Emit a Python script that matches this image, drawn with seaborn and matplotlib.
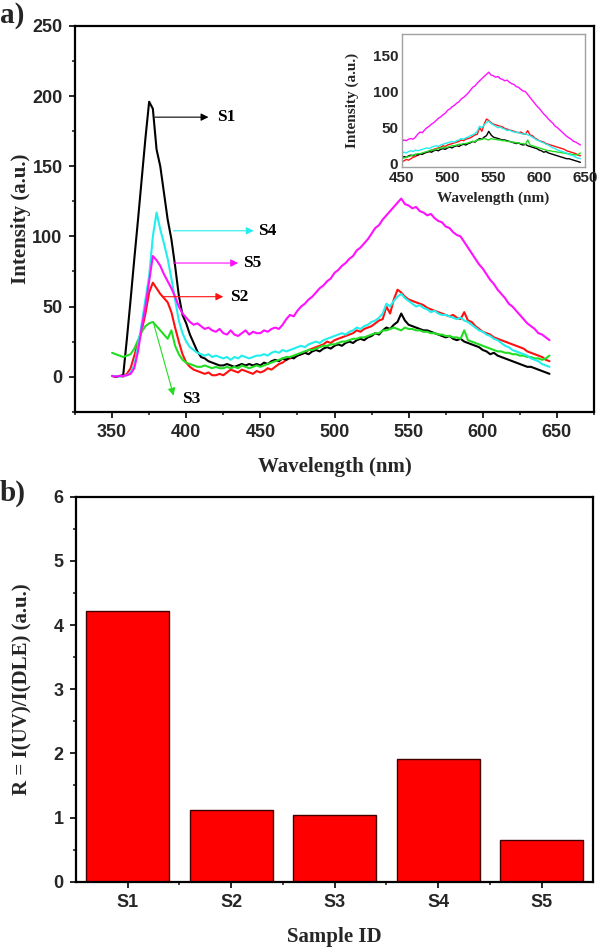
import numpy as np
import pandas as pd
import matplotlib
matplotlib.use("Agg")
import matplotlib.pyplot as plt
from matplotlib.ticker import MultipleLocator, FixedLocator
import seaborn as sns

# ---------------- data ----------------
wavelength = np.round(np.arange(350, 645.01, 2.5), 1)  # nm grid, 2.5 nm step

s1 = [0.5, 0, 0.5, 1, 27, 55, 84, 112, 141, 170,
      196, 191, 162, 150, 131, 112, 98, 79, 58, 44,
      38, 30, 24, 18, 14, 13, 11, 10, 9, 8,
      8, 9, 8, 7, 8, 9, 8, 9, 8, 9,
      8, 10, 9, 11, 12, 11, 13, 12, 14, 13,
      15, 16, 17, 16, 18, 19, 18, 20, 21, 20,
      22, 23, 22, 24, 25, 24, 26, 27, 26, 28,
      29, 31, 30, 33, 35, 34, 37, 39, 45, 40,
      37, 36, 35, 34, 33, 33, 32, 31, 30, 29,
      28, 29, 27, 26, 27, 25, 24, 23, 22, 21,
      19, 18, 16, 17, 15, 14, 13, 12, 11, 10,
      9, 8, 7, 7, 6, 5, 4, 3, 2]
s2 = [0.5, 0, 0.5, 0, 2, 6, 15, 24, 33, 45,
      60, 67, 63, 59, 56, 53, 46, 35, 25, 16,
      10, 7, 5, 4, 3, 2, 3, 1, 1, 2,
      1, 3, 5, 4, 3, 5, 4, 3, 2, 4,
      3, 4, 6, 5, 7, 9, 10, 12, 13, 14,
      15, 16, 17, 19, 20, 21, 22, 23, 25, 24,
      26, 27, 28, 29, 30, 31, 33, 32, 34, 35,
      36, 38, 40, 41, 50, 45, 55, 62, 60, 57,
      55, 54, 53, 52, 51, 49, 48, 47, 46, 45,
      44, 43, 44, 42, 41, 46, 40, 39, 36, 34,
      32, 31, 30, 28, 27, 26, 25, 24, 23, 22,
      21, 20, 18, 17, 16, 15, 14, 12, 11]
s3 = [17, 16, 15, 14, 15, 16, 20, 26, 32, 36,
      38, 39, 36, 33, 30, 27, 33, 22, 16, 12,
      10, 9, 8, 7, 7, 8, 7, 6, 7, 6,
      6, 7, 6, 7, 6, 8, 7, 6, 7, 8,
      7, 8, 9, 10, 11, 12, 13, 14, 14, 15,
      16, 17, 18, 19, 19, 20, 21, 22, 22, 23,
      23, 24, 25, 25, 26, 27, 27, 28, 28, 29,
      30, 31, 31, 33, 33, 34, 35, 34, 33, 35,
      34, 34, 33, 33, 32, 32, 31, 31, 30, 30,
      29, 29, 28, 28, 27, 33, 26, 25, 24, 23,
      22, 21, 20, 19, 18, 18, 17, 17, 16, 16,
      15, 15, 14, 14, 13, 13, 12, 13, 15]
s4 = [0.5, 0.5, 0, 0.5, 1, 3, 8, 22, 38, 55,
      72, 100, 117, 105, 95, 84, 70, 55, 40, 31,
      25, 21, 19, 17, 16, 15, 16, 14, 15, 14,
      13, 14, 12, 14, 13, 15, 14, 13, 14, 15,
      15, 16, 15, 17, 18, 17, 19, 18, 19, 20,
      21, 22, 21, 23, 24, 25, 24, 26, 27, 28,
      29, 30, 31, 30, 32, 33, 35, 34, 36, 37,
      39, 40, 42, 45, 52, 50, 54, 57, 59, 56,
      54, 52, 50, 51, 49, 48, 46, 47, 45, 44,
      44, 43, 42, 41, 42, 40, 39, 37, 35, 33,
      32, 30, 29, 27, 26, 24, 22, 21, 19, 18,
      17, 16, 15, 13, 12, 11, 9, 8, 7]
s5 = [0.5, 0, 0.5, 0.5, 1, 2, 6, 18, 35, 50,
      68, 86, 83, 79, 73, 68, 63, 57, 50, 45,
      42, 39, 37, 38, 36, 34, 35, 33, 32, 34,
      31, 30, 33, 30, 29, 31, 33, 30, 32, 31,
      31, 33, 32, 34, 35, 34, 37, 41, 44, 43,
      47, 50, 52, 55, 57, 60, 63, 65, 68, 70,
      74, 76, 79, 81, 84, 86, 90, 92, 95, 98,
      102, 106, 108, 112, 115, 118, 121, 124, 127, 123,
      122, 120, 121, 118, 117, 115, 116, 113, 111, 110,
      107, 106, 103, 101, 100, 96, 92, 88, 84, 80,
      77, 73, 69, 66, 62, 59, 56, 52, 50, 47,
      44, 41, 38, 36, 34, 31, 30, 28, 26]

samples = ["S1", "S2", "S3", "S4", "S5"]
ratio = [4.22, 1.11, 1.04, 1.91, 0.65]

colors = {"S1": "#000000", "S2": "#FF1010", "S3": "#22DD22",
          "S4": "#22EEEE", "S5": "#FF10FF"}
draw_order = ["S2", "S1", "S3", "S4", "S5"]

series = {"S1": s1, "S2": s2, "S3": s3, "S4": s4, "S5": s5}
df = pd.concat([pd.DataFrame({"wl": wavelength, "I": series[k], "sample": k})
                for k in samples], ignore_index=True)

# ---------------- style ----------------
sns.set_style("ticks")
plt.rcParams["font.family"] = ["Liberation Sans", "DejaVu Sans"]
plt.rcParams["font.weight"] = "bold"
SERIF = ["Liberation Serif", "DejaVu Serif"]

fig = plt.figure(figsize=(6, 9.48), dpi=100)
ax1 = fig.add_axes([0.125, 0.5657, 0.865, 0.4069])
ax2 = fig.add_axes([0.1267, 0.0699, 0.8622, 0.4062])
axin = fig.add_axes([0.6695, 0.8242, 0.3055, 0.14])

# ---------------- panel a ----------------
sns.lineplot(data=df, x="wl", y="I", hue="sample", hue_order=draw_order,
             palette=colors, ax=ax1, legend=False, lw=1.5,
             estimator=None, sort=False)
ax1.set_xlim(325, 675)
ax1.set_ylim(-25, 250)
ax1.xaxis.set_major_locator(MultipleLocator(50))
ax1.xaxis.set_minor_locator(MultipleLocator(25))
ax1.yaxis.set_major_locator(MultipleLocator(50))
ax1.yaxis.set_minor_locator(MultipleLocator(25))
ax1.set_xlabel("Wavelength (nm)", family=SERIF, fontweight="bold", fontsize=15)
ax1.set_ylabel("Intensity (a.u.)", family=SERIF, fontweight="bold", fontsize=15)
ax1.xaxis.set_label_coords(0.5, -0.117)
ax1.yaxis.set_label_coords(-0.085, 0.5)

arrows = [("S1", (379, 185), (415, 185), (420.5, 185)),
          ("S4", (391.4, 104), (445.5, 104), (448.5, 104)),
          ("S5", (391.4, 81), (435, 81), (438.5, 81)),
          ("S2", (384.7, 57), (425, 57), (429.5, 57)),
          ("S3", (378, 38), (391.5, -13.5), (397, -16))]
for name, start, tip, tpos in arrows:
    ax1.annotate("", xy=tip, xytext=start,
                 arrowprops=dict(arrowstyle="-|>", color=colors[name], lw=0.8,
                                 mutation_scale=11, shrinkA=0, shrinkB=0))
    ax1.text(tpos[0], tpos[1], name, family=SERIF, fontweight="bold",
             fontsize=12.5, va="center", ha="left", color="black")

# inset
dfi = df[df["wl"] >= 450]
sns.lineplot(data=dfi, x="wl", y="I", hue="sample", hue_order=draw_order,
             palette=colors, ax=axin, legend=False, lw=1.0,
             estimator=None, sort=False)
axin.set_xlim(450, 650)
axin.set_ylim(-4, 180)
axin.xaxis.set_major_locator(MultipleLocator(50))
axin.yaxis.set_major_locator(MultipleLocator(50))
axin.tick_params(axis="y", length=0, pad=2.5, labelsize=11)
axin.tick_params(axis="x", length=0, pad=3, labelsize=11)
for sp in axin.spines.values():
    sp.set_color("#A0A0A0")
    sp.set_linewidth(1.0)
axin.set_xlabel("Wavelength (nm)", family=SERIF, fontweight="bold", fontsize=11)
axin.set_ylabel("Intensity (a.u.)", family=SERIF, fontweight="bold", fontsize=11)
axin.xaxis.set_label_coords(0.5, -0.19)
axin.yaxis.set_label_coords(-0.235, 0.5)

# ---------------- panel b ----------------
sns.barplot(x=samples, y=ratio, color="#FF0000", saturation=1, width=0.8,
            edgecolor="#400000", linewidth=1.0, ax=ax2)
ax2.set_xlim(-0.5, 4.5)
ax2.set_ylim(0, 6)
ax2.yaxis.set_major_locator(MultipleLocator(1))
ax2.yaxis.set_minor_locator(MultipleLocator(0.5))
ax2.xaxis.set_minor_locator(FixedLocator([0.5, 1.5, 2.5, 3.5]))
ax2.set_xlabel("Sample ID", family=SERIF, fontweight="bold", fontsize=15)
ax2.set_ylabel("R = I(UV)/I(DLE) (a.u.)", family=SERIF, fontweight="bold", fontsize=15)
ax2.xaxis.set_label_coords(0.5, -0.118)
ax2.yaxis.set_label_coords(-0.085, 0.5)

for ax in (ax1, ax2):
    for sp in ax.spines.values():
        sp.set_visible(True)
        sp.set_linewidth(1.6)
        sp.set_color("black")
    ax.tick_params(which="major", direction="out", length=4, width=1.4,
                   labelsize=13, pad=5, top=False, right=False)
    ax.tick_params(which="minor", direction="out", length=2.5, width=1.2,
                   top=False, right=False)

fig.text(0.0, 1 - 2 / 948, "a)", family=SERIF, fontweight="bold",
         fontsize=21, va="top", ha="left")
fig.text(0.0, 1 - 480 / 948, "b)", family=SERIF, fontweight="bold",
         fontsize=21, va="top", ha="left")

fig.savefig("out.png", dpi=100)
